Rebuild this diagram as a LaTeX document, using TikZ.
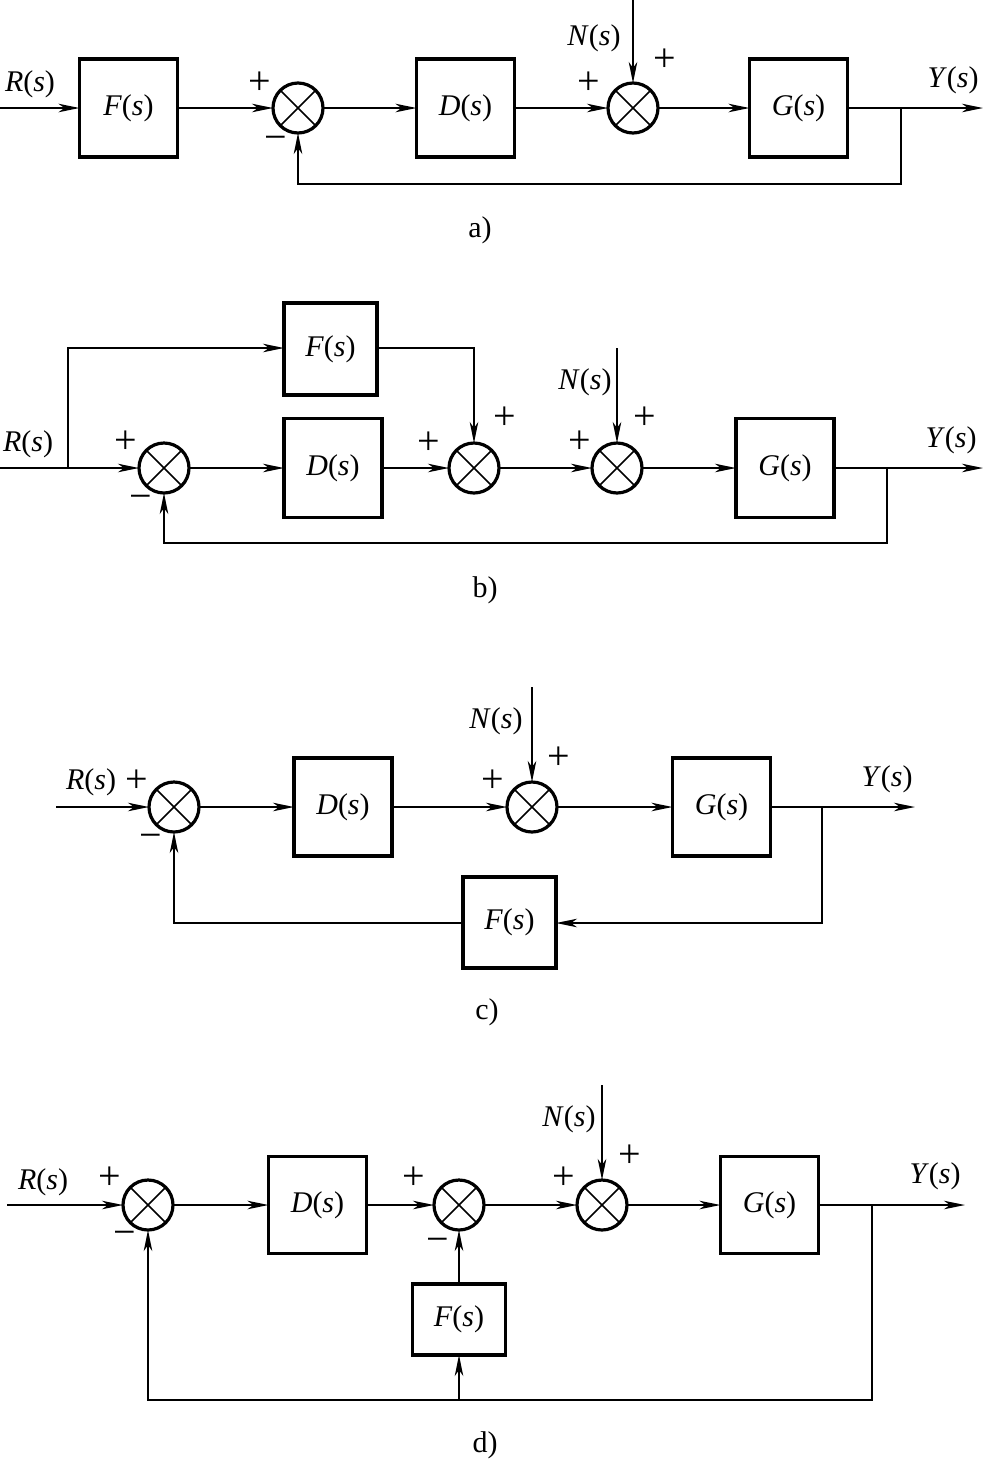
\documentclass[tikz,border=0pt]{standalone}
\usepackage{fontspec}
\setmainfont{Liberation Serif}
\usetikzlibrary{arrows.meta,calc}
\newcommand\tfn[1]{\textit{#1}(\textit{s})}
\begin{document}
\begin{tikzpicture}[x=1pt,y=-1pt,
  blk/.style={draw, line width=3.3pt, inner sep=0pt, outer sep=0pt, font=\fontsize{30}{32}\selectfont},
  sumnode/.style={circle, draw, line width=3.2pt, minimum size=50pt, inner sep=0pt, outer sep=0pt,
     path picture={\draw[line width=1.5pt] ($(path picture bounding box.center)+(45:27pt)$) -- ($(path picture bounding box.center)+(225:27pt)$)
                                          ($(path picture bounding box.center)+(135:27pt)$) -- ($(path picture bounding box.center)+(-45:27pt)$);}},
  lab/.style={inner sep=0pt, font=\fontsize{30}{32}\selectfont},
  sgn/.style={inner sep=0pt, font=\fontsize{40}{42}\selectfont},
  ln/.style={line width=2pt},
  thinln/.style={line width=1.4pt},
  arr/.style={-{Stealth[length=21pt,width=8.5pt,inset=6pt]}},
]
\useasboundingbox (0,0) rectangle (984,1460);
\fill[white] (0,0) rectangle (984,1460);

% ---------------- a) ----------------
\node[blk, minimum width=98pt, minimum height=98pt] (Fa) at (128.5,108) {\tfn{F}};
\node[sumnode] (s1a) at (298,108) {};
\node[blk, minimum width=98pt, minimum height=98pt] (Da) at (465.5,108) {\tfn{D}};
\node[sumnode] (s2a) at (633,108) {};
\node[blk, minimum width=98pt, minimum height=98pt] (Ga) at (798.5,108) {\tfn{G}};
\coordinate (ina) at (0,108);
\coordinate (bra) at (901,108);
\coordinate (outa) at (983,108);
\coordinate (fba) at (901,184);
\coordinate (Na) at (633,0);
\draw[ln,arr] (ina) -- (Fa);
\draw[ln,arr] (Fa) -- (s1a);
\draw[ln,arr] (s1a) -- (Da);
\draw[ln,arr] (Da) -- (s2a);
\draw[ln,arr] (s2a) -- (Ga);
\draw[ln,arr] (Ga) -- (outa);
\draw[ln,arr] (bra) -- (fba) -| (s1a.south);
\draw[ln,arr] (Na) -- (s2a.north);
\node[lab] (Ra) at (30,84) {\tfn{R}};
\node[sgn] (pa1) at (260,83) {+};
\node[sgn] (ma1) at (276,143) {−};
\node[lab] (NLa) at (594,38) {\tfn{N}};
\node[sgn] (pa2) at (665,60) {+};
\node[sgn] (pa3) at (589,83) {+};
\node[lab] (Ya) at (953,80) {\tfn{Y}};
\node[lab] (cap_a) at (480,230) {a)};

% ---------------- b) ----------------
\coordinate (inb) at (0,468);
\coordinate (jb) at (68,468);
\coordinate (jbt) at (68,348);
\node[blk, minimum width=93pt, minimum height=92pt] (Fb) at (330.5,349) {\tfn{F}};
\node[sumnode] (s1b) at (164,468) {};
\node[blk, minimum width=98pt, minimum height=99pt] (Db) at (333,468) {\tfn{D}};
\node[sumnode] (s2b) at (474,468) {};
\node[sumnode] (s3b) at (617,468) {};
\node[blk, minimum width=98pt, minimum height=99pt] (Gb) at (785,468) {\tfn{G}};
\coordinate (brb) at (887,468);
\coordinate (outb) at (983,468);
\coordinate (fbb) at (887,543);
\coordinate (Nb) at (617,348);
\coordinate (ffb) at (474,348);
\draw[ln,arr] (inb) -- (s1b);
\draw[ln,arr] (jb) -- (jbt) -- (Fb.west |- jbt);
\draw[ln,arr] (Fb.east |- ffb) -- (ffb) -- (s2b.north);
\draw[ln,arr] (s1b) -- (Db);
\draw[ln,arr] (Db) -- (s2b);
\draw[ln,arr] (s2b) -- (s3b);
\draw[ln,arr] (s3b) -- (Gb);
\draw[ln,arr] (Gb) -- (outb);
\draw[ln,arr] (brb) -- (fbb) -| (s1b.south);
\draw[ln,arr] (Nb) -- (s3b.north);
\node[lab] (Rb) at (28,444) {\tfn{R}};
\node[sgn] (pb1) at (126,442) {+};
\node[sgn] (mb1) at (141,502) {−};
\node[sgn] (pb2) at (429,443) {+};
\node[sgn] (pb3) at (505,418) {+};
\node[lab] (NLb) at (585,382) {\tfn{N}};
\node[sgn] (pb4) at (580,442) {+};
\node[sgn] (pb5) at (645,418) {+};
\node[lab] (Yb) at (951,440) {\tfn{Y}};
\node[lab] (cap_b) at (485,590) {b)};

% ---------------- c) ----------------
\coordinate (inc) at (56,807);
\node[sumnode] (s1c) at (174,807) {};
\node[blk, minimum width=98pt, minimum height=98pt] (Dc) at (343,807) {\tfn{D}};
\node[sumnode] (s2c) at (532,807) {};
\node[blk, minimum width=98pt, minimum height=98pt] (Gc) at (721.5,807) {\tfn{G}};
\node[blk, minimum width=93pt, minimum height=91pt] (Fc) at (509.5,922.5) {\tfn{F}};
\coordinate (brc) at (822,807);
\coordinate (outc) at (915,807);
\coordinate (fbc) at (822,923);
\coordinate (flc) at (174,923);
\coordinate (Nc) at (532,687);
\draw[ln,arr] (inc) -- (s1c);
\draw[ln,arr] (s1c) -- (Dc);
\draw[ln,arr] (Dc) -- (s2c);
\draw[ln,arr] (s2c) -- (Gc);
\draw[ln,arr] (Gc) -- (outc);
\draw[ln,arr] (brc) -- (fbc) -- (Fc.east |- fbc);
\draw[thinln,arr] (Fc.west |- flc) -- (flc) -- (s1c.south);
\draw[ln,arr] (Nc) -- (s2c.north);
\node[lab] (Rc) at (91,782) {\tfn{R}};
\node[sgn] (pc1) at (137,781) {+};
\node[sgn] (mc1) at (151,841) {−};
\node[lab] (NLc) at (496,721) {\tfn{N}};
\node[sgn] (pc2) at (493,781) {+};
\node[sgn] (pc3) at (559,758) {+};
\node[lab] (Yc) at (887,779) {\tfn{Y}};
\node[lab] (cap_c) at (487,1012) {c)};

% ---------------- d) ----------------
\coordinate (ind) at (7,1205);
\node[sumnode] (s1d) at (148,1205) {};
\node[blk, minimum width=98pt, minimum height=97pt] (Dd) at (317.5,1205) {\tfn{D}};
\node[sumnode] (s2d) at (459,1205) {};
\node[blk, minimum width=93pt, minimum height=71pt] (Fd) at (459,1319.5) {\tfn{F}};
\node[sumnode] (s3d) at (602,1205) {};
\node[blk, minimum width=98pt, minimum height=97pt] (Gd) at (769.5,1205) {\tfn{G}};
\coordinate (brd) at (872,1205);
\coordinate (outd) at (965,1205);
\coordinate (fbd) at (872,1400);
\coordinate (jd) at (459,1400);
\coordinate (Nd) at (602,1085);
\draw[ln,arr] (ind) -- (s1d);
\draw[ln,arr] (s1d) -- (Dd);
\draw[ln,arr] (Dd) -- (s2d);
\draw[ln,arr] (s2d) -- (s3d);
\draw[ln,arr] (s3d) -- (Gd);
\draw[ln,arr] (Gd) -- (outd);
\draw[ln,arr] (brd) -- (fbd) -| (s1d.south);
\draw[thinln,arr] (jd) -- (Fd.south);
\draw[thinln,arr] (Fd.north) -- (s2d.south);
\draw[ln,arr] (Nd) -- (s3d.north);
\node[lab] (Rd) at (43,1182) {\tfn{R}};
\node[sgn] (pd1) at (110,1178) {+};
\node[sgn] (md1) at (125,1238) {−};
\node[sgn] (pd2) at (414,1178) {+};
\node[sgn] (md2) at (438,1245) {−};
\node[lab] (NLd) at (569,1119) {\tfn{N}};
\node[sgn] (pd3) at (564,1178) {+};
\node[sgn] (pd4) at (630,1156) {+};
\node[lab] (Yd) at (935,1176) {\tfn{Y}};
\node[lab] (cap_d) at (485,1445) {d)};
\end{tikzpicture}
\end{document}
